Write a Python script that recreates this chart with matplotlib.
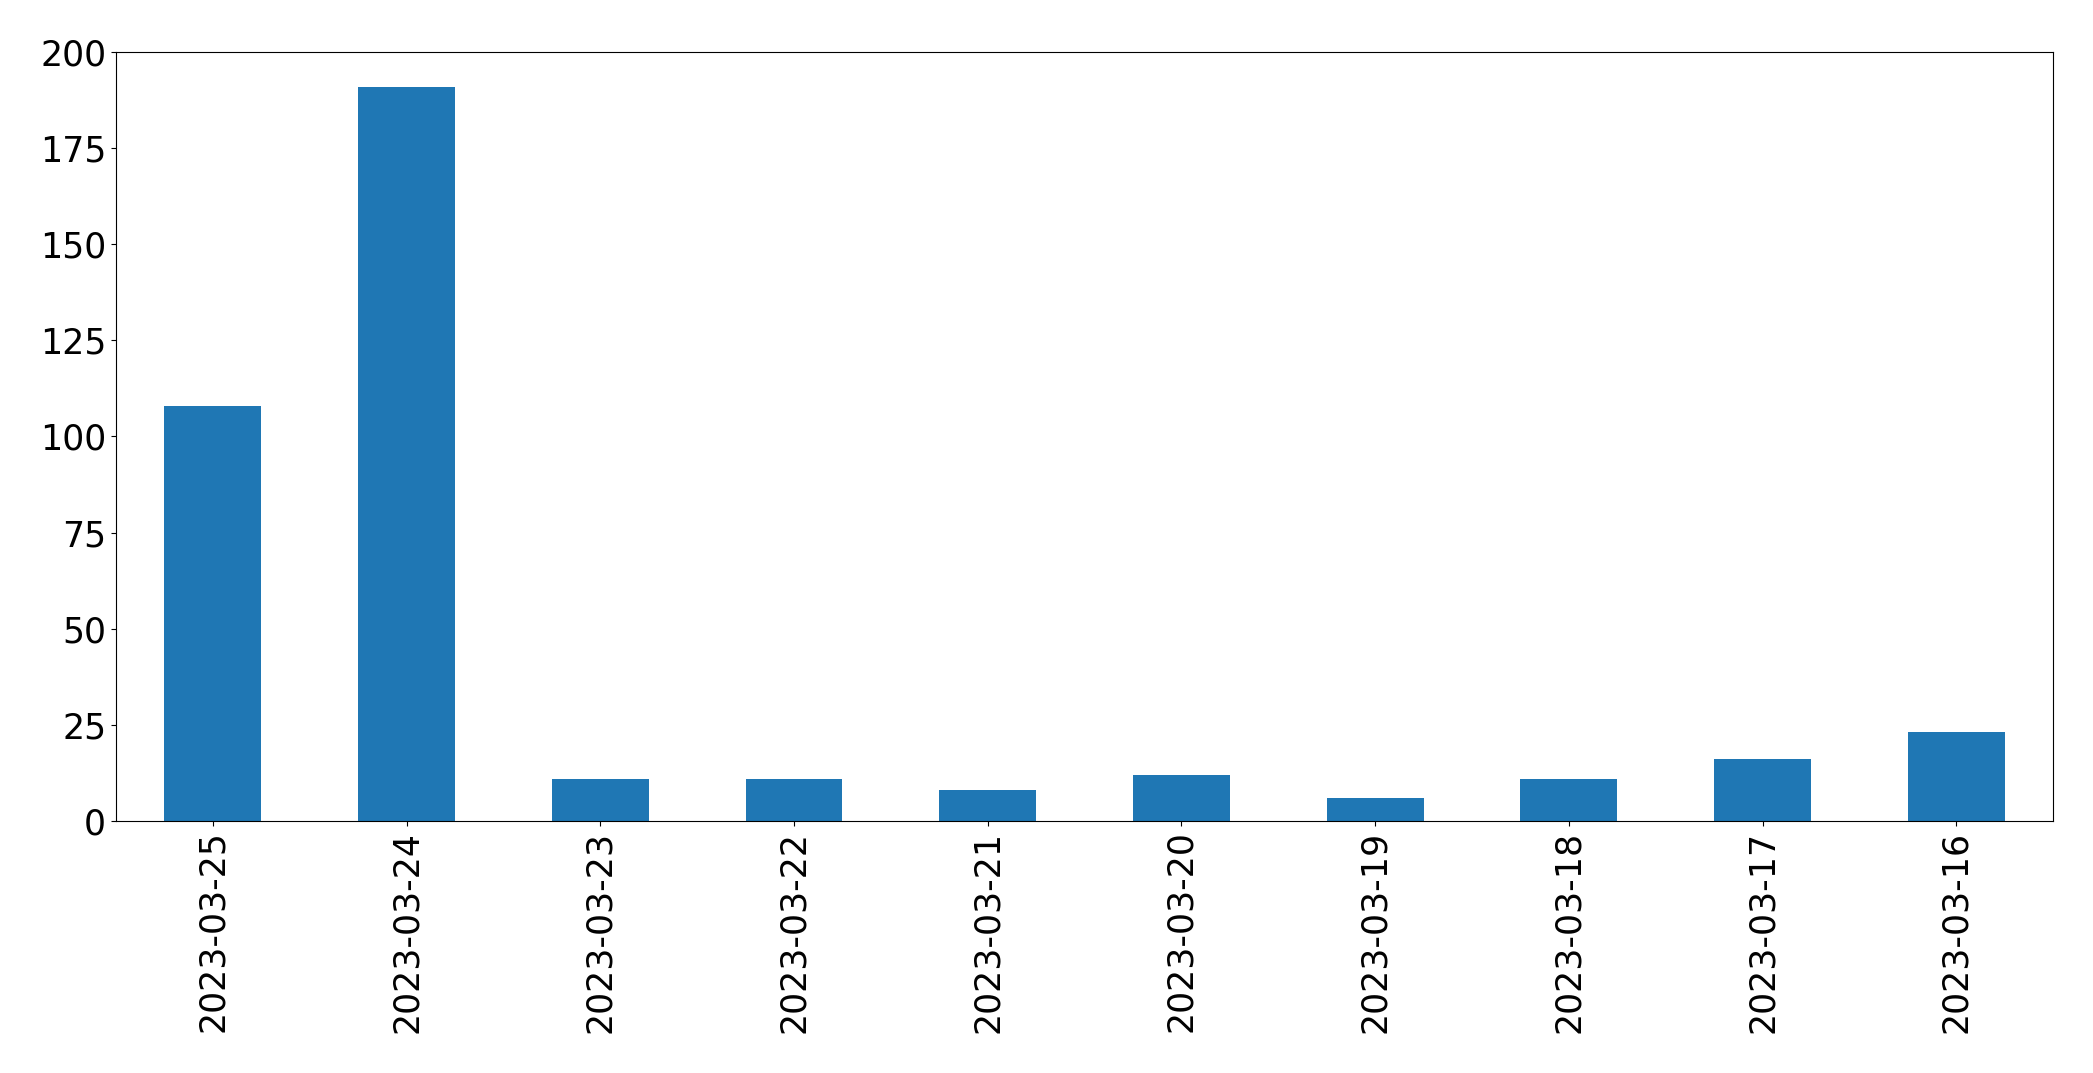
import pandas as pd
import matplotlib
matplotlib.use("Agg")
import matplotlib.pyplot as plt

dates = ["2023-03-25", "2023-03-24", "2023-03-23", "2023-03-22", "2023-03-21",
         "2023-03-20", "2023-03-19", "2023-03-18", "2023-03-17", "2023-03-16"]
counts = [108, 191, 11, 11, 8, 12, 6, 11, 16, 23]

plt.rcParams["font.size"] = 25

fig, ax = plt.subplots(figsize=(20.93, 10.73), dpi=100)
s = pd.Series(counts, index=dates)
s.plot(kind="bar", ax=ax, color="#1f77b4")
ax.set_ylim(0, 200)
ax.tick_params(labelsize=25)
for sp in ax.spines.values():
    sp.set_edgecolor("black")
fig.subplots_adjust(left=0.0554, right=0.981, top=0.9515, bottom=0.235)
fig.savefig("out.png", dpi=100)
